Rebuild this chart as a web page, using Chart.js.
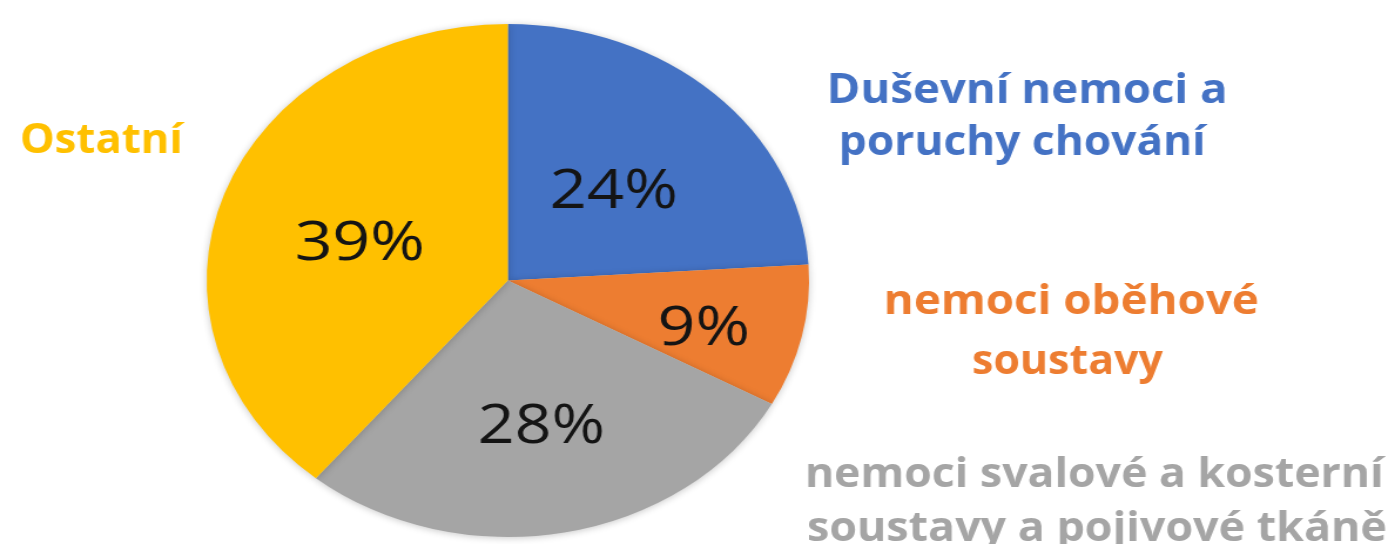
<!DOCTYPE html>
<html>
<head>
<meta charset="utf-8">
<script src="https://cdn.jsdelivr.net/npm/chart.js@4.4.1/dist/chart.umd.min.js"></script>
<style>
html,body{margin:0;padding:0;background:#fff;overflow:hidden;}
#c{display:block;}
</style>
</head>
<body>
<canvas id="c" width="1188" height="544" style="width:1395px;height:544px;"></canvas>
<script>
// ---- data ----
const categories = ['Duševní nemoci a poruchy chování', 'nemoci oběhové soustavy', 'nemoci svalové a kosterní soustavy a pojivové tkáně', 'Ostatní'];
const values = [24, 9, 28, 39];
const sliceColors = ['#4472C4', '#ED7D31', '#A5A5A5', '#FFC000'];
const categoryLines = [
  ['Duševní nemoci a', 'poruchy chování'],
  ['nemoci oběhové', 'soustavy'],
  ['nemoci svalové a kosterní', 'soustavy a pojivové tkáně'],
  ['Ostatní']
];

// ---- layout (display pixels) ----
const SX = 1395 / 1188; // horizontal stretch of the picture
const pctBoxes = [ // left, right, baseline
  [552, 675, 208],
  [660, 747, 345],
  [480, 602, 443],
  [297, 422, 260]
];
const catBoxes = [
  [[830, 1225, 103], [842, 1208, 155]],
  [[887, 1258, 314], [973, 1163, 374]],
  [[808, 1386, 487], [808, 1386, 541]],
  [[22, 185, 153]]
];

function drawFit(ctx, text, l, r, base, font, color) {
  ctx.save();
  ctx.font = font;
  ctx.fillStyle = color;
  ctx.textBaseline = 'alphabetic';
  ctx.textAlign = 'left';
  const m = ctx.measureText(text);
  const w = m.actualBoundingBoxRight + m.actualBoundingBoxLeft;
  const target = (r - l) / SX;
  const s = target / w;
  ctx.translate(l / SX, base);
  ctx.scale(s, 1);
  ctx.fillText(text, m.actualBoundingBoxLeft, 0);
  ctx.restore();
}

const labelPlugin = {
  id: 'labelPlugin',
  beforeDatasetsDraw(chart) {
    const ctx = chart.ctx;
    ctx.save();
    ctx.shadowColor = 'rgba(0,0,0,0.22)';
    ctx.shadowBlur = 7;
    ctx.shadowOffsetX = 0;
    ctx.shadowOffsetY = 1;
  },
  afterDatasetsDraw(chart) {
    chart.ctx.restore();
  },
  afterDraw(chart) {
    const ctx = chart.ctx;
    values.forEach((v, i) => {
      const b = pctBoxes[i];
      drawFit(ctx, v + '%', b[0], b[1], b[2], '55px "Open Sans"', '#141414');
    });
    categoryLines.forEach((lines, i) => {
      lines.forEach((t, j) => {
        const b = catBoxes[i][j];
        drawFit(ctx, t, b[0], b[1], b[2], 'bold 42px "Open Sans"', sliceColors[i]);
      });
    });
  }
};

new Chart(document.getElementById('c'), {
  type: 'pie',
  data: {
    labels: categories,
    datasets: [{
      data: values,
      backgroundColor: sliceColors,
      borderWidth: 0,
      hoverOffset: 0,
      offset: 0
    }]
  },
  options: {
    responsive: false,
    animation: false,
    events: [],
    devicePixelRatio: 1,
    layout: { padding: { left: 176, top: 24, right: 499, bottom: 7 } },
    plugins: { legend: { display: false }, tooltip: { enabled: false } }
  },
  plugins: [labelPlugin]
});
</script>
</body>
</html>
